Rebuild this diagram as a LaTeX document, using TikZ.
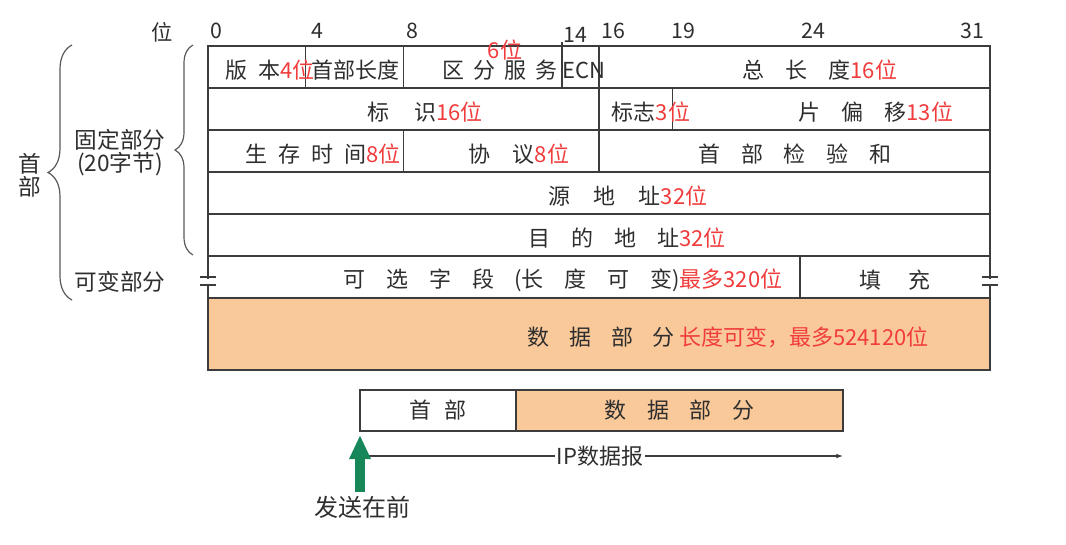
\documentclass[tikz,border=0pt]{standalone}
\usepackage{fontspec}
\setmainfont{Noto Sans CJK SC}
\usetikzlibrary{arrows.meta,positioning,decorations.pathreplacing}
\definecolor{frame}{HTML}{3C3C3C}
\definecolor{ink}{HTML}{2E2E2E}
\definecolor{bitred}{HTML}{F03C3C}
\definecolor{peach}{HTML}{FAC99A}
\definecolor{sendgreen}{HTML}{17875A}
\newcommand{\gp}[1]{\hspace{#1em}}
\newcommand{\bitn}[1]{\textcolor{bitred}{#1}}
\tikzset{field/.style={font=\fontsize{16.5}{18}\selectfont,text=ink,inner sep=0pt},
  ruler/.style={font=\fontsize{16}{18}\selectfont,text=ink,inner sep=0pt},
  sidelabel/.style={font=\fontsize{17}{17.25}\selectfont,text=ink,inner sep=0pt,align=center},
  cell/.style={draw=frame,line width=1.1pt},
  curly/.style={draw=frame!85,line width=0.9pt,decorate},
  pktcell/.style={draw=frame,line width=1.1pt,font=\fontsize{16.5}{18}\selectfont,text=ink,
  minimum height=30.75pt,inner sep=0pt,outer sep=0pt},
  dimline/.style={-{Latex[length=5pt,width=3.5pt]},line width=.8pt,draw=frame},
  sendarrow/.style={-{Triangle[length=18pt,width=15pt]},line width=7pt,draw=sendgreen}}
\begin{document}
\begin{tikzpicture}[x=0.75pt,y=-0.75pt]
\useasboundingbox (0,0) rectangle (1066,544);
% header table
\fill[peach] (208,298) rectangle (990,370);
\draw[cell] (208,46) rectangle (990,370);
\foreach \y in {88,130,172,214,256,298} \draw[cell] (208,\y) -- (990,\y);
\draw[cell] (305.75,46) -- (305.75,88);
\draw[cell] (403.5,46) -- (403.5,88);
\draw[cell] (562,42) -- (562,88);
\draw[cell] (599,46) -- (599,172);
\draw[cell] (672.3,88) -- (672.3,130);
\draw[cell] (403.5,130) -- (403.5,172);
\draw[cell] (800,256) -- (800,298);
% breaks in the options row
\foreach \x in {208,990} {
  \fill[white] (\x-6,278.5) rectangle (\x+6,283.5);
  \draw[cell,line width=.9pt] (\x-8,277) -- (\x+8,277) (\x-8,285) -- (\x+8,285);
}
% bit ruler
\node[ruler] (pos) at (162,32) {位};
\node[ruler] (r0) at (216,31) {0};
\node[ruler] (r4) at (317,31) {4};
\node[ruler] (r8) at (412,31) {8};
\node[ruler] (r14) at (575,35) {14};
\node[ruler] (r16) at (613,31) {16};
\node[ruler] (r19) at (683,31) {19};
\node[ruler] (r24) at (813,31) {24};
\node[ruler] (r31) at (972,31) {31};
% fields
\node[field] (ver) at (270,70.5) {版\gp{.5}本\bitn{4位}};
\node[field] (ihl) at (355,70.5) {首部长度};
\node[field] (dsf) at (500,70.5) {区\gp{.4}分\gp{.4}服\gp{.4}务};
\node[field] (ecn) at (584,70.5) {ECN};
\node[field,text=bitred] (six) at (505,50) {6位};
\node[field] (tlen) at (820,70.5) {总\gp{.95}长\gp{.95}度\bitn{16位}};
\node[field] (ident) at (425,112.5) {标\gp{1.15}识\bitn{16位}};
\node[field] (flags) at (651,112.5) {标志\bitn{3位}};
\node[field] (frag) at (876,112.5) {片\gp{.95}偏\gp{.95}移\bitn{13位}};
\node[field] (ttl) at (323,154.5) {生\gp{.5}存\gp{.5}时\gp{.5}间\bitn{8位}};
\node[field] (proto) at (519,154.5) {协\gp{1}议\bitn{8位}};
\node[field] (chk) at (795,154.5) {首\gp{.95}部\gp{.95}检\gp{.95}验\gp{.95}和};
\node[field] (src) at (628,196.5) {源\gp{1.05}地\gp{1.05}址\bitn{32位}};
\node[field] (dst) at (627,238.5) {目\gp{.95}的\gp{.95}地\gp{.95}址\bitn{32位}};
\node[field] (opt) at (563,280.5) {可\gp{.95}选\gp{.95}字\gp{.95}段\gp{.9}(长\gp{.95}度\gp{.95}可\gp{.95}变)\bitn{最多320位}};
\node[field] (pad) at (895,280.5) {填\gp{1.2}充};
\node[field] (data) at (728,337) {数\gp{.9}据\gp{.9}部\gp{.9}分\gp{.2}\bitn{长度可变，最多524120位}};
% left labels and braces
\draw[curly,decoration={brace,amplitude=18pt}] (72,300) -- (72,45);
\draw[curly,decoration={brace,amplitude=13.5pt}] (193,255) -- (193,45);
\node[sidelabel] (hdrside) at (30,175) {首\\部};
\node[sidelabel] (fixed) at (120,152.5) {固定部分\\(20字节)};
\node[sidelabel] (var) at (120,282) {可变部分};
% datagram
\node[pktcell,minimum width=117pt] (hdr) at (438,410.5) {首\gp{.55}部};
\node[pktcell,fill=peach,minimum width=245.25pt,right=0pt of hdr] (pay) {数\gp{.95}据\gp{.95}部\gp{.95}分};
\coordinate (ipL) at (361,456);
\coordinate (ipR) at (843,456);
\node[field,inner sep=1.5pt] (iplabel) at (600,456) {IP数据报};
\draw[dimline] (iplabel.west) -- (ipL);
\draw[dimline] (iplabel.east) -- (ipR);
\coordinate (sendtail) at (360,492);
\coordinate (sendtip) at (360,435);
\draw[sendarrow] (sendtail) -- (sendtip);
\node[sidelabel,font=\fontsize{18}{20}\selectfont] (first) at (362,507) {发送在前};
\end{tikzpicture}
\end{document}
